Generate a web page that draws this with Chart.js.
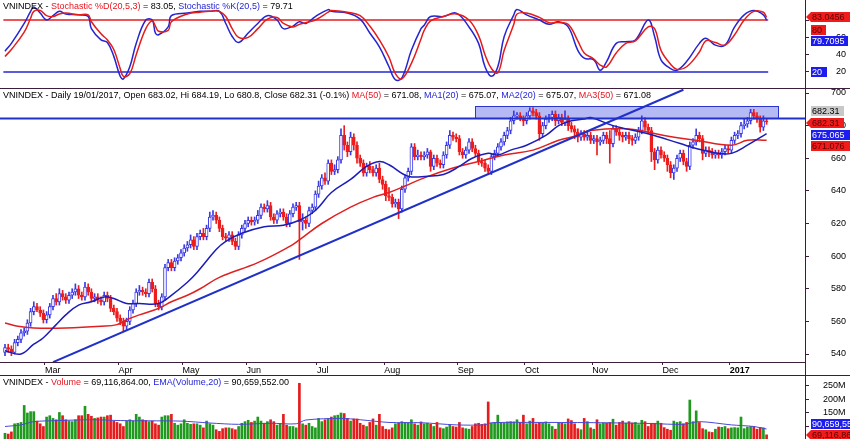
<!DOCTYPE html>
<html>
<head>
<meta charset="utf-8">
<script src="https://cdn.jsdelivr.net/npm/chart.js@4.4.1/dist/chart.umd.min.js"></script>
<style>
  html, body { margin: 0; padding: 0; background: #fff; }
  #wrap { position: relative; width: 850px; height: 439px; overflow: hidden; font-family: "Liberation Sans", Arial, sans-serif; }
  .pane { position: absolute; left: 0; width: 850px; }
  .pane canvas { display: block; }
  .hdr { position: absolute; left: 3px; font-size: 9px; line-height: 11px; white-space: nowrap; color: #000; }
  .r { color: #e8141e; }
  .b { color: #2424d8; }
</style>
</head>
<body>
<div id="wrap">
  <div class="pane" style="top:0;height:88px"><canvas id="stoch" width="850" height="88"></canvas></div>
  <div class="pane" style="top:88px;height:287px"><canvas id="price" width="850" height="287"></canvas></div>
  <div class="pane" style="top:375px;height:64px"><canvas id="vol" width="850" height="64"></canvas></div>
  <div class="hdr" style="top:1px">VNINDEX - <span class="r">Stochastic %D(20,5,3)</span> = 83.05, <span class="b">Stochastic %K(20,5)</span> = 79.71</div>
  <div class="hdr" style="top:90px">VNINDEX - Daily 19/01/2017, Open 683.02, Hi 684.19, Lo 680.8, Close 682.31 (-0.1%) <span class="r">MA(50)</span> = 671.08, <span class="b">MA1(20)</span> = 675.07, <span class="b">MA2(20)</span> = 675.07, <span class="r">MA3(50)</span> = 671.08</div>
  <div class="hdr" style="top:377px">VNINDEX - <span class="r">Volume</span> = 69,116,864.00, <span class="b">EMA(Volume,20)</span> = 90,659,552.00</div>
</div>
<script>
// daily candles, one per trading day (index 0 = mid Feb 2016, last = 19/01/2017)
const opens = [541,544,543,541,547,549,553,554,559,566,
  569,567,565,561,564,569,574,572,577,575,
  573,576,578,580,576,575,581,578,574,575,
  573,572,576,574,568,566,562,560,557,560,
  567,571,578,579,578,577,584,580,571,569,
  575,593,596,593,597,599,602,605,607,610,
  606,612,614,612,617,624,625,622,617,612,
  611,613,609,606,613,617,620,622,621,622,
  625,630,629,631,624,622,626,627,624,620,
  626,630,631,621,622,620,628,630,638,643,
  648,646,657,652,653,659,674,668,664,673,
  668,660,657,651,655,653,651,654,647,644,
  637,636,632,633,629,641,648,652,667,661,
  662,661,662,664,655,660,657,656,662,668,
  674,673,672,664,662,665,670,666,663,658,
  657,654,652,661,663,667,670,674,677,683,
  686,686,684,683,686,689,688,686,675,680,
  684,685,687,683,685,682,684,680,678,676,
  673,675,673,674,671,672,670,671,674,672,
  669,678,676,674,673,674,672,671,673,677,
  683,679,677,664,659,665,662,660,656,651,
  654,660,663,658,655,668,670,674,672,663,
  665,664,662,663,662,664,666,665,671,674,
  675,680,681,683,688,686,684,679,683.02];
const highs = [546,546,545,549,551,555,556,561,568,572,
  571,569,567,566,571,576,577,580,579,577,
  578,580,583,582,578,584,583,580,577,577,
  575,578,578,576,570,568,564,562,562,569,
  573,580,582,581,580,586,586,582,573,577,
  595,598,598,599,601,604,607,609,613,612,
  614,616,617,619,627,628,627,624,619,614,
  615,615,611,615,619,622,624,624,624,628,
  632,632,634,633,626,628,629,629,626,628,
  632,633,633,626,624,630,632,640,646,650,
  651,659,659,656,661,678,680,670,676,675,
  670,662,659,657,658,655,656,657,649,646,
  642,638,635,635,643,650,654,669,669,665,
  664,664,666,665,662,662,659,664,670,677,
  676,675,674,666,667,672,672,668,665,660,
  659,656,663,665,669,672,676,679,685,689,
  688,688,686,688,691,691,690,688,682,686,
  687,689,689,687,687,689,686,682,680,678,
  677,677,676,676,674,674,673,676,676,677,
  680,680,678,676,676,676,674,675,679,686,
  685,681,679,666,667,667,664,662,658,656,
  662,665,665,660,670,672,678,676,674,667,
  667,666,665,665,666,668,668,673,676,677,
  682,684,685,690,690,688,686,686,684.19];
const lows = [539,541,539,540,545,547,551,552,557,564,
  566,563,559,559,562,567,570,570,573,571,
  571,574,576,574,573,573,576,572,572,571,
  570,570,572,566,564,560,558,554,555,558,
  565,569,576,576,575,575,578,569,567,567,
  573,591,591,591,595,597,600,603,605,604,
  604,610,610,610,615,622,620,615,610,609,
  609,607,604,604,611,615,618,619,619,620,
  623,627,627,622,620,620,624,622,618,618,
  624,628,598,616,617,618,626,628,636,641,
  644,644,650,650,651,657,665,661,662,665,
  657,655,649,649,651,649,649,645,641,634,
  634,630,630,623,627,639,646,650,659,659,
  659,659,660,652,653,655,654,654,660,666,
  671,670,662,660,660,663,664,661,656,655,
  652,650,650,659,661,665,668,672,675,681,
  684,683,680,681,684,686,684,671,673,678,
  682,683,680,681,680,680,677,676,672,670,
  671,671,671,669,669,662,668,669,669,657,
  667,674,671,670,671,669,668,669,671,675,
  677,675,658,653,657,660,658,652,648,647,
  652,658,656,652,653,666,668,670,659,661,
  661,660,660,660,660,662,663,663,669,672,
  673,678,679,681,684,682,676,677,680.8];
const closes = [544,543,541,547,549,553,554,559,566,569,
  567,565,561,564,569,574,572,577,575,573,
  576,578,580,576,575,581,578,574,575,573,
  572,576,574,568,566,562,560,557,560,567,
  571,578,579,578,577,584,580,571,569,575,
  593,596,593,597,599,602,605,607,610,606,
  612,614,612,617,624,625,622,617,612,611,
  613,609,606,613,617,620,622,621,622,625,
  630,629,631,624,622,626,627,624,620,626,
  630,631,621,622,620,628,630,638,643,648,
  646,657,652,653,659,674,668,664,673,668,
  660,657,651,655,653,651,654,647,644,637,
  636,632,633,629,641,648,652,667,661,662,
  661,662,664,655,660,657,656,662,668,674,
  673,672,664,662,665,670,666,663,658,657,
  654,652,661,663,667,670,674,677,683,686,
  686,684,683,686,689,688,686,675,680,684,
  685,687,683,685,682,684,680,678,676,673,
  675,673,674,671,672,670,671,674,672,669,
  678,676,674,673,674,672,671,673,677,683,
  679,677,664,659,665,662,660,656,651,654,
  660,663,658,655,668,670,674,672,663,665,
  664,662,663,662,664,666,665,671,674,675,
  680,681,683,688,686,684,679,683,682.31];
// volume in millions of shares
const volumes = [75,72,80,110,112,115,178,150,155,155,
  120,110,100,135,140,130,125,152,140,125,
  120,118,125,140,140,175,145,138,130,132,
  135,135,140,142,120,115,110,100,120,125,
  120,145,135,125,122,118,120,110,105,135,
  140,140,145,112,105,110,125,112,108,110,
  110,105,95,120,110,105,88,82,92,95,
  95,92,88,100,112,118,123,115,120,135,
  120,112,118,125,118,105,110,145,105,100,
  100,95,260,110,105,112,100,95,130,118,
  125,130,135,140,142,150,148,130,120,128,
  128,112,105,100,115,128,105,145,100,90,
  88,95,110,112,118,115,113,125,110,105,
  117,110,112,108,100,115,95,92,98,105,
  100,98,115,95,92,90,100,110,112,108,
  110,191,112,115,142,115,112,117,118,117,
  125,115,142,110,120,130,110,115,112,117,
  110,100,90,112,113,110,128,122,110,92,
  88,130,118,95,90,125,110,113,112,115,
  127,105,115,120,112,118,113,115,107,123,
  118,100,112,112,120,112,96,90,86,120,
  115,118,110,115,198,118,158,115,92,88,
  80,78,90,98,97,100,92,95,96,95,
  135,92,98,100,100,90,97,95,69.116864];

const ma20Days = [0,5,9,12,16,19,23,27,31,34,38,42,48,52,57,60,66,69,74,81,
  87,92,97,102,108,113,117,120,126,132,137,142,146,151,154,158,163,169,173,177,
  181,183,190,201,211,216,223,227,232,238];
const ma20Values = [542,540,546,550,558,564,570,572,575,574,571,571,571,576,584,590,604,609,614,618,
  619,622,628,639,647,655,658,656,649,649,650,655,660,663,662,665,668,674,680,683,
  684,685,680,675,669,666,663,663,668,675.07];
const ma50Days = [0,4,9,19,30,35,38,42,48,52,57,61,67,79,89,92,99,108,115,120,
  125,131,140,148,156,165,173,179,183,195,206,216,227,232,238];
const ma50Values = [559,557,556,556,557,558,561,564,568,572,576,580,587,596,606,610,620,630,636,639,
  643,648,654,658,662,665,671,674,677,678,674,671,668,671,671.08];

const stochDays = [0,2,6,8,9,11,13,15,17,19,23,26,27,30,32,34,36,37,39,41,
  44,46,47,48,51,52,57,61,64,67,69,71,73,76,79,82,85,87,90,92,
  94,97,101,102,107,111,114,117,120,122,124,127,130,131,133,137,141,145,148,150,
  152,154,156,159,160,163,167,170,173,176,179,181,184,186,188,191,194,197,201,203,
  205,208,210,213,217,219,222,225,228,231,234,237,238];
const stochK = [44,53,76,90,95,88,80,85,90,87,86,84,70,57,54,38,15,12,26,53,
  80,80,65,63,72,85,88,90,90,90,76,61,54,65,76,85,80,70,73,78,
  76,84,92,90,88,81,65,49,26,11,13,45,70,74,84,84,88,72,53,26,
  15,26,61,86,92,86,80,75,78,72,45,36,34,22,32,53,55,57,80,61,
  34,24,22,32,53,59,51,51,72,86,91,86,79.71];
const stochD = [38,46,66,82,90,91,85,84,87,88,86,86,78,64,57,46,24,15,18,40,
  70,79,73,67,68,78,87,89,90,90,84,70,60,60,70,81,83,76,72,75,
  77,80,89,91,89,85,73,57,37,18,12,30,58,68,79,84,87,80,62,40,
  24,19,45,75,87,88,83,77,77,75,56,42,35,28,26,42,53,56,72,70,
  45,29,23,26,43,56,54,51,63,80,90,89,83.05];

const emaVolDays = [0,5,9,17,27,36,45,55,64,73,83,91,94,105,111,120,130,141,150,152,
  167,186,202,212,217,227,234,238];
const emaVolValues = [100,106,118,122,125,122,121,120,113,108,112,110,124,130,125,115,114,106,106,114,
  115,114,111,108,118,106,100,90.66];

const monthDays = [12.5,35.5,55.5,75.5,97.5,118.5,141.5,162.5,183.5,205.5,226.5];
const monthLabels = ['Mar','Apr','May','Jun','Jul','Aug','Sep','Oct','Nov','Dec','2017'];
const priceTicks = [540,560,580,600,620,640,660,680,700];
const stochTicks = [20,40,60,80];
const volTicks = [100,150,200,250];
const stochLevels = [80,20];
const trendDays = [15,212];
const trendValues = [535,702];
const resistance = 684.4;
const zoneDays = [147,241.6];
const zoneValues = [684.4,692];

const X_MIN = -1.56, X_MAX = 250;
const FONT = '"Liberation Sans", Arial, sans-serif';
const FRAME = '#3c1e3c';
const BLUE = '#2424d0', RED = '#e41c1c';
const UP = '#3a3ae6', DN = '#ee1c1c';
const GREEN = '#1f9a1f';

Chart.defaults.font.family = FONT;
Chart.defaults.font.size = 9;
Chart.defaults.color = '#000';

const pts = (days, vals) => days.map((d, i) => ({x: d, y: vals[i]}));
const idx = closes.map((_, i) => i);
const isUp = idx.map(i => closes[i] >= opens[i]);

const hiddenX = {type: 'linear', min: X_MIN, max: X_MAX, offset: false, display: false};

function rightAxis(min, max, ticks, pad, cb) {
    return {
        type: 'linear', position: 'right', min, max,
        border: {display: true, color: FRAME, width: 1},
        grid: {drawOnChartArea: false, drawTicks: true, tickLength: 4, color: FRAME},
        ticks: {padding: pad, font: {family: FONT, size: 9}, color: '#000', callback: cb || (v => v)},
        afterBuildTicks: s => { s.ticks = ticks.map(v => ({value: v})); },
        // keep the label offset from shrinking the plot vertically
        afterFit: s => { s.width = 45; s.paddingTop = 0; s.paddingBottom = 0; }
    };
}

// frame lines and value tags on the right axis
const framePlugin = {
    id: 'frame',
    afterDraw(chart, args, opts) {
        const {ctx, chartArea, height, width} = chart;
        ctx.save();
        ctx.strokeStyle = FRAME;
        ctx.lineWidth = 1;
        ctx.beginPath();
        ctx.moveTo(Math.round(chartArea.right) + 0.5, 0);
        ctx.lineTo(Math.round(chartArea.right) + 0.5, height);
        if (opts.top) {
            ctx.moveTo(0, 0.5);
            ctx.lineTo(width, 0.5);
        }
        ctx.stroke();

        const y = chart.scales.y;
        ctx.font = '9px ' + FONT;
        ctx.textBaseline = 'middle';
        (opts.tags || []).forEach(t => {
            const cy = Math.round(y.getPixelForValue(t.value) + t.offset);
            const x0 = chartArea.right + 6;
            ctx.fillStyle = t.bg;
            ctx.beginPath();
            if (t.arrow) {
                ctx.moveTo(chartArea.right + 1, cy);
                ctx.lineTo(x0, cy - 5);
                ctx.lineTo(x0 + t.w, cy - 5);
                ctx.lineTo(x0 + t.w, cy + 5);
                ctx.lineTo(x0, cy + 5);
                ctx.closePath();
            } else {
                ctx.rect(x0, cy - 5, t.w, 10);
            }
            ctx.fill();
            ctx.fillStyle = t.fg;
            ctx.textAlign = 'left';
            ctx.fillText(t.text, x0 + 1, cy + 0.5);
        });
        ctx.restore();
    }
};

const zonePlugin = {
    id: 'zone',
    beforeDatasetsDraw(chart, args, opts) {
        if (!opts.show) return;
        const {ctx} = chart;
        const xs = chart.scales.x, ys = chart.scales.y;
        const x1 = xs.getPixelForValue(zoneDays[0]), x2 = xs.getPixelForValue(zoneDays[1]);
        const y1 = ys.getPixelForValue(zoneValues[1]), y2 = ys.getPixelForValue(zoneValues[0]);
        ctx.save();
        ctx.fillStyle = '#b6baf4';
        ctx.strokeStyle = '#2c34d0';
        ctx.lineWidth = 1;
        ctx.fillRect(x1, y1, x2 - x1, y2 - y1);
        ctx.strokeRect(Math.round(x1) + 0.5, Math.round(y1) + 0.5, Math.round(x2 - x1), Math.round(y2 - y1));
        ctx.restore();
    }
};

const base = {
    responsive: false,
    devicePixelRatio: 1,
    animation: false,
    layout: {padding: 0},
    events: []
};

// stochastic panel
new Chart(document.getElementById('stoch'), {
    type: 'line',
    data: {
        datasets: [
            {data: pts(stochDays, stochD), borderColor: RED, borderWidth: 1.5, pointRadius: 0, tension: 0.4},
            {data: pts(stochDays, stochK), borderColor: BLUE, borderWidth: 1.5, pointRadius: 0, tension: 0.4},
            {data: [{x: -0.5, y: stochLevels[0]}, {x: 238.5, y: stochLevels[0]}], borderColor: RED, borderWidth: 1.5, pointRadius: 0},
            {data: [{x: -0.5, y: stochLevels[1]}, {x: 238.5, y: stochLevels[1]}], borderColor: BLUE, borderWidth: 1.5, pointRadius: 0}
        ]
    },
    options: {
        ...base,
        scales: {x: hiddenX, y: rightAxis(1.5, 103.1, stochTicks, 27)},
        plugins: {
            legend: {display: false}, tooltip: {enabled: false},
            frame: {top: false, tags: [
                {value: 83.05, offset: 0, text: '83.0456', bg: '#f01c1c', fg: '#5a0000', w: 39, arrow: true},
                {value: 80, offset: 10, text: '80', bg: '#f01c1c', fg: '#5a0000', w: 15},
                {value: 79.71, offset: 21, text: '79.7095', bg: '#1c1cf0', fg: '#fff', w: 37},
                {value: 20, offset: 0, text: '20', bg: '#1c1cf0', fg: '#fff', w: 16}
            ]}
        }
    },
    plugins: [framePlugin]
});

// price panel
new Chart(document.getElementById('price'), {
    type: 'line',
    data: {
        datasets: [
            {data: pts(trendDays, trendValues), borderColor: '#2030c8', borderWidth: 2, pointRadius: 0},
            {data: [{x: X_MIN, y: resistance}, {x: X_MAX, y: resistance}], borderColor: '#2030c8', borderWidth: 2, pointRadius: 0},
            {data: pts(ma20Days, ma20Values), borderColor: '#1c1cb8', borderWidth: 1.5, pointRadius: 0, tension: 0.4},
            {data: pts(ma50Days, ma50Values), borderColor: '#e02020', borderWidth: 1.5, pointRadius: 0, tension: 0.4},
            {
                type: 'bar',
                data: idx.map(i => ({x: i, y: [opens[i], closes[i]]})),
                backgroundColor: isUp.map(u => u ? '#ffffff' : DN),
                borderColor: isUp.map(u => u ? UP : DN),
                borderWidth: 1, borderSkipped: false, barThickness: 3, grouped: false, minBarLength: 1
            },
            {
                type: 'bar',
                data: idx.map(i => ({x: i, y: [lows[i], highs[i]]})),
                backgroundColor: isUp.map(u => u ? UP : DN),
                barThickness: 1, grouped: false
            }
        ]
    },
    options: {
        ...base,
        scales: {
            x: {
                type: 'linear', min: X_MIN, max: X_MAX, offset: false, position: 'bottom',
                border: {display: true, color: FRAME, width: 1},
                grid: {drawOnChartArea: false, drawTicks: true, tickLength: 3, color: FRAME, offset: false},
                ticks: {
                    align: 'start', padding: 0, maxRotation: 0, autoSkip: false, color: '#000',
                    font: c => ({family: FONT, size: 9, weight: monthLabels[c.index] === '2017' ? 'bold' : 'normal'}),
                    callback: (v, i) => monthLabels[i]
                },
                afterBuildTicks: s => { s.ticks = monthDays.map(v => ({value: v})); },
                afterFit: s => { s.height = 13; s.paddingLeft = 0; s.paddingRight = 0; }
            },
            y: rightAxis(535.1, 703.07, priceTicks, 22)
        },
        plugins: {
            legend: {display: false}, tooltip: {enabled: false},
            zone: {show: true},
            frame: {top: true, tags: [
                {value: 682.31, offset: -11, text: '682.31', bg: '#c8c8c8', fg: '#000', w: 33},
                {value: 682.31, offset: 1, text: '682.31', bg: '#f01c1c', fg: '#5a0000', w: 33, arrow: true},
                {value: 675.07, offset: 1, text: '675.065', bg: '#1c1cf0', fg: '#fff', w: 39},
                {value: 671.08, offset: 6, text: '671.076', bg: '#f01c1c', fg: '#5a0000', w: 39}
            ]}
        }
    },
    plugins: [zonePlugin, framePlugin]
});

// volume panel
new Chart(document.getElementById('vol'), {
    type: 'line',
    data: {
        datasets: [
            {data: pts(emaVolDays, emaVolValues), borderColor: '#4848d8', borderWidth: 1, pointRadius: 0, tension: 0.3},
            {
                type: 'bar',
                data: idx.map(i => ({x: i, y: volumes[i]})),
                backgroundColor: idx.map(i => (i === 0 || closes[i] >= closes[i - 1]) ? GREEN : RED),
                barThickness: 2, grouped: false
            }
        ]
    },
    options: {
        ...base,
        scales: {x: hiddenX, y: rightAxis(53.7, 290.7, volTicks, 14, v => v + 'M')},
        plugins: {
            legend: {display: false}, tooltip: {enabled: false},
            frame: {top: true, tags: [
                {value: 90.66, offset: -5, text: '90,659,552', bg: '#1c1cf0', fg: '#fff', w: 44},
                {value: 69.12, offset: 0, text: '69,116,864', bg: '#f01c1c', fg: '#5a0000', w: 44, arrow: true}
            ]}
        }
    },
    plugins: [framePlugin]
});
</script>
</body>
</html>
